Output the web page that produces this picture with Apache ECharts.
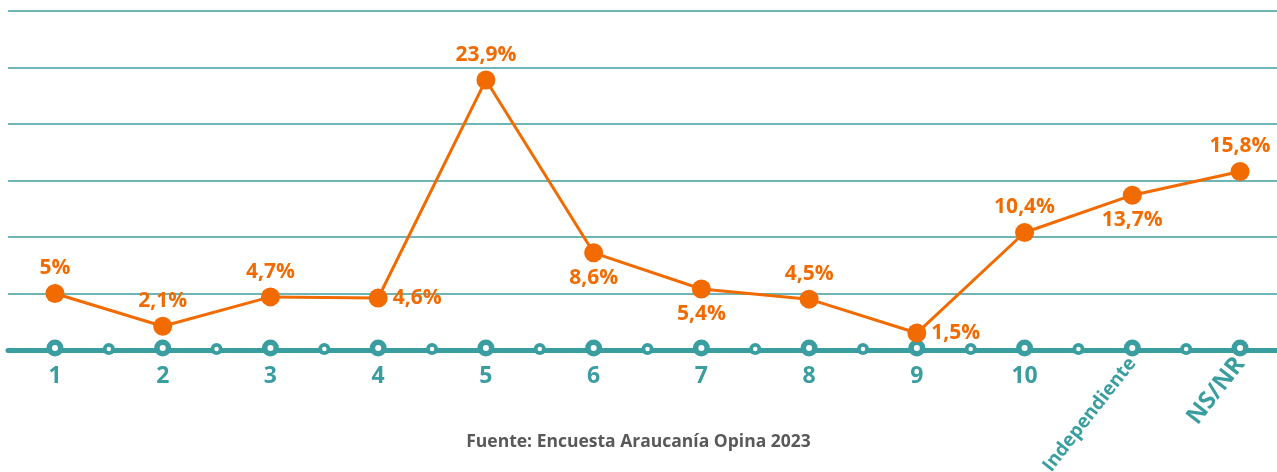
<!DOCTYPE html>
<html>
<head>
<meta charset="utf-8">
<script src="https://cdn.jsdelivr.net/npm/echarts@6/dist/echarts.min.js"></script>
<style>
html,body{margin:0;padding:0;background:#fff;}
#c{width:1277px;height:472px;}
</style>
</head>
<body>
<div id="c"></div>
<script>
const categories = ['1','2','3','4','5','6','7','8','9','10','Independiente','NS/NR'];
const values = [5, 2.1, 4.7, 4.6, 23.9, 8.6, 5.4, 4.5, 1.5, 10.4, 13.7, 15.8];
const valueLabels = ['5%','2,1%','4,7%','4,6%','23,9%','8,6%','5,4%','4,5%','1,5%','10,4%','13,7%','15,8%'];
const labelPositions = ['top','top','top','right','top','bottom','bottom','top','right','top','bottom','top'];
const sourceText = 'Fuente: Encuesta Araucanía Opina 2023';

const TEAL = '#3a9ea1';
const ORANGE = '#f26b00';
const FONT = 'Open Sans';

const n = categories.length;
const xMin = -0.436, xMax = 11.343;
const majorMarks = categories.map((c, i) => [i, 0]);
const minorMarks = categories.slice(0, n - 1).map((c, i) => [i + 0.5, 0]);
const lineData = values.map((v, i) => ({
  value: [i, v],
  label: { position: labelPositions[i] }
}));

function disc(data, size, color, z, offset) {
  return {
    type: 'scatter', data: data, symbol: 'circle', symbolSize: size, symbolOffset: [0, offset],
    itemStyle: { color: color, opacity: 1 }, z: z, silent: true
  };
}

const chart = echarts.init(document.getElementById('c'), null, { renderer: 'canvas' });
chart.setOption({
  animation: false,
  backgroundColor: '#ffffff',
  title: {
    text: sourceText,
    left: 'center',
    top: 428,
    textStyle: { fontFamily: FONT, fontWeight: 'bold', fontSize: 17.5, color: '#59595b' }
  },
  grid: { left: 8, right: 0, top: 11, bottom: 122, containLabel: false, outerBoundsMode: 'none' },
  xAxis: [
    {
      type: 'value', min: xMin, max: xMax,
      splitLine: { show: false },
      axisTick: { show: false },
      axisLine: { show: true, onZero: false, lineStyle: { color: TEAL, width: 5 } },
      axisLabel: {
        customValues: categories.slice(0, 10).map((c, i) => i),
        formatter: v => categories[Math.round(v)],
        color: TEAL, fontFamily: FONT, fontWeight: 'bold', fontSize: 23, margin: 15
      }
    },
    {
      type: 'value', min: xMin, max: xMax, position: 'bottom',
      splitLine: { show: false },
      axisTick: { show: false },
      axisLine: { show: false },
      axisLabel: {
        customValues: [10, 11],
        rotate: 52,
        formatter: v => Math.round(v) === 11 ? '{big|' + categories[11] + '}' : '{sm|' + categories[10] + '}',
        rich: {
          sm: { color: TEAL, fontFamily: FONT, fontWeight: 'bold', fontSize: 19 },
          big: { color: TEAL, fontFamily: FONT, fontWeight: 'bold', fontSize: 24 }
        },
        margin: 10
      }
    }
  ],
  yAxis: {
    type: 'value', min: 0, max: 30, interval: 5,
    axisLine: { show: false }, axisTick: { show: false }, axisLabel: { show: false },
    splitLine: { show: true, lineStyle: { color: '#3f9da0', width: 1.5 } }
  },
  series: [
    disc(majorMarks, 17, TEAL, 3, -2),
    disc(majorMarks, 6, '#ffffff', 4, -2),
    disc(minorMarks, 12, TEAL, 3, -1),
    disc(minorMarks, 4.5, '#ffffff', 4, -1),
    {
      type: 'line', data: lineData, z: 5,
      symbol: 'circle', symbolSize: 19,
      lineStyle: { color: ORANGE, width: 3 },
      itemStyle: { color: ORANGE },
      label: {
        show: true, distance: 5,
        formatter: p => valueLabels[p.dataIndex],
        color: ORANGE, fontFamily: FONT, fontWeight: 'bold', fontSize: 21
      }
    }
  ]
});
</script>
</body>
</html>
